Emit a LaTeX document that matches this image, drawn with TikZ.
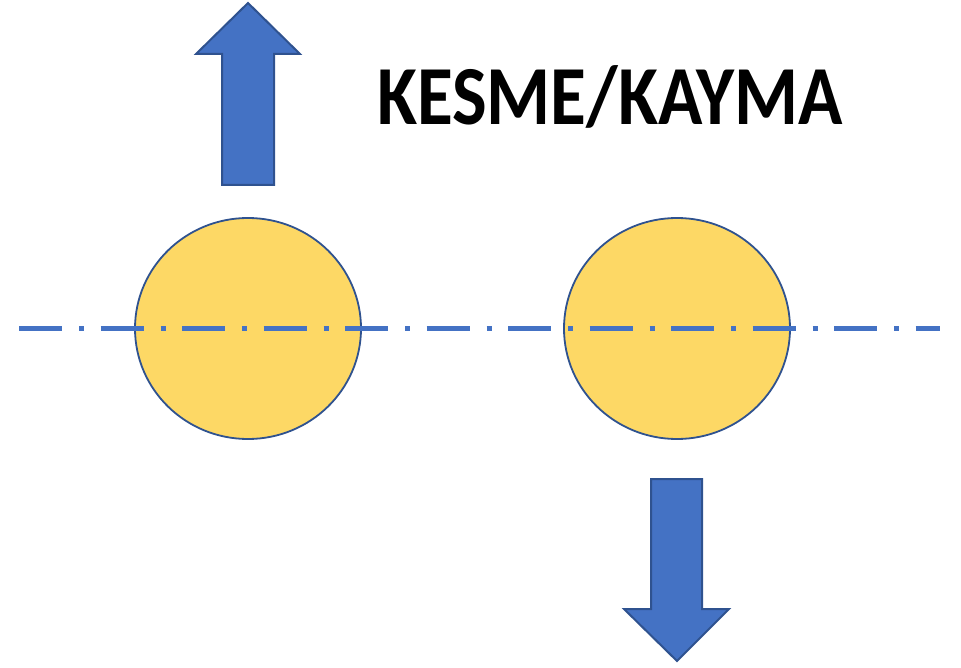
\documentclass[tikz,border=0pt]{standalone}
\usepackage{fontspec}
\usetikzlibrary{shapes.geometric}
\setmainfont{Carlito}
\definecolor{arrowfill}{HTML}{4472C4}
\definecolor{edgeblue}{HTML}{2F528F}
\definecolor{discfill}{HTML}{FDD865}
\begin{document}
\begin{tikzpicture}[x=1pt,y=-1pt,
  blockarrow/.style={fill=arrowfill,draw=edgeblue,line width=2pt,line join=miter},
  disc/.style={fill=discfill,draw=edgeblue,line width=1.8pt,shape=ellipse,minimum width=226pt,minimum height=221pt,inner sep=0pt},
  axisline/.style={draw=arrowfill,line width=4.5pt,dash pattern=on 43pt off 17pt on 5pt off 16.5pt},
  title/.style={font=\bfseries\fontsize{84}{90}\selectfont,inner sep=0pt,anchor=base}]
\useasboundingbox (0,0) rectangle (961,668);
% up arrow
\draw[blockarrow] (248,3) -- (300,54) -- (274,54) -- (274,185) -- (222,185) -- (222,54) -- (196,54) -- cycle;
% down arrow
\draw[blockarrow] (677,661) -- (729,609) -- (702,609) -- (702,479) -- (651,479) -- (651,609) -- (624,609) -- cycle;
% discs
\node[disc] (c1) at (248,328.5) {};
\node[disc] (c2) at (677,328.5) {};
% axis
\coordinate (l0) at (19,328.5);
\coordinate (l1) at (940,328.5);
\draw[axisline] (l0) -- (l1);
% title
\node[title] (t) at (610,125) {\scalebox{0.872}[1]{KESME/KAYMA}};
\end{tikzpicture}
\end{document}
